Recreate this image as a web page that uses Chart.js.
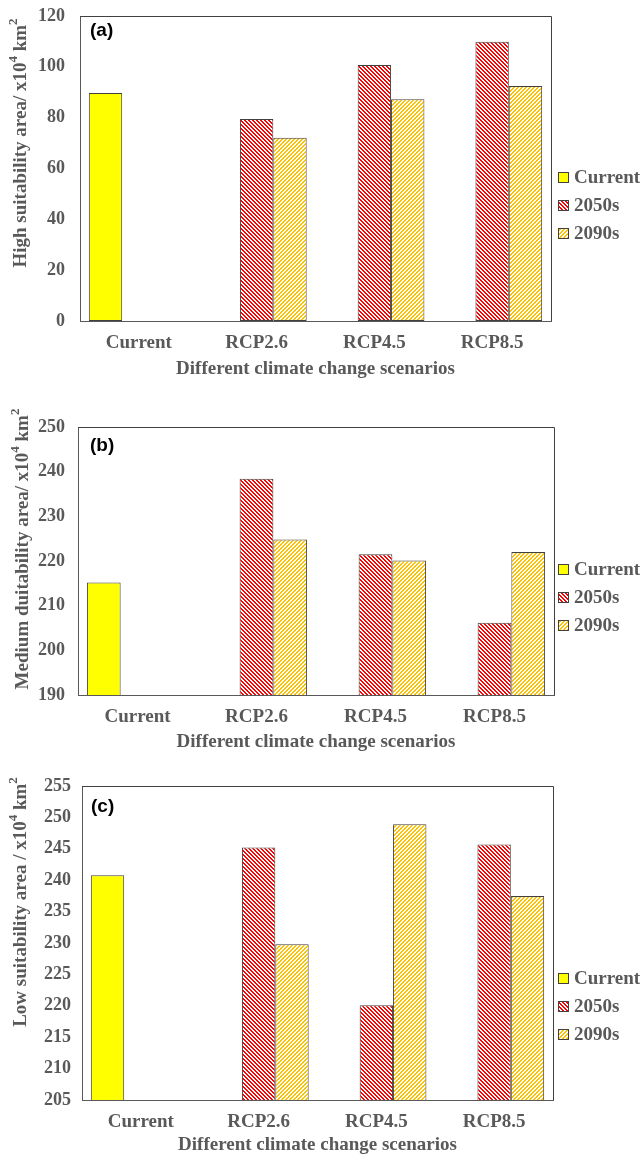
<!DOCTYPE html>
<html>
<head>
<meta charset="utf-8">
<script src="https://cdn.jsdelivr.net/npm/chart.js@4.4.1/dist/chart.umd.min.js"></script>
<style>
  body { margin: 0; background: #fff; overflow: hidden; }
  .panel { position: absolute; left: 0; }
</style>
</head>
<body>
<div class="panel" style="top:0px"><canvas id="chartA" width="644" height="380"></canvas></div>
<div class="panel" style="top:380px"><canvas id="chartB" width="644" height="380"></canvas></div>
<div class="panel" style="top:760px"><canvas id="chartC" width="644" height="396"></canvas></div>
<script>
const scenarios = ["Current", "RCP2.6", "RCP4.5", "RCP8.5"];
const seriesNames = ["Current", "2050s", "2090s"];

// (a) high suitability area
const highCurrent = [89.7, null, null, null];
const high2050s = [null, 79.5, 100.7, 109.9];
const high2090s = [null, 72.1, 87.2, 92.5];
const highTicks = [0, 120, 20];

// (b) medium suitability area
const medCurrent = [215.2, null, null, null];
const med2050s = [null, 238.4, 221.5, 206.2];
const med2090s = [null, 224.8, 220.1, 222.0];
const medTicks = [190, 250, 10];

// (c) low suitability area
const lowCurrent = [240.8, null, null, null];
const low2050s = [null, 245.2, 220.1, 245.7];
const low2090s = [null, 229.8, 248.9, 237.5];
const lowTicks = [205, 255, 5];

const xTitle = "Different climate change scenarios";
const grey = "#595959";
const serif = "'Liberation Serif', 'Times New Roman', serif";

function hatch(color, dir) {
    const c = document.createElement("canvas");
    c.width = 4; c.height = 4;
    const g = c.getContext("2d");
    g.fillStyle = "#fff";
    g.fillRect(0, 0, 4, 4);
    g.fillStyle = color;
    for (let y = 0; y < 4; y++) {
        for (let x = 0; x < 4; x++) {
            const k = dir > 0 ? (x + y) % 4 : (x - y + 4) % 4;
            if (k < 2) g.fillRect(x, y, 1, 1);
        }
    }
    return g.createPattern(c, "repeat");
}

// frame, panel label, y title with superscripts, legend
const extras = {
    id: "extras",
    afterDraw(chart) {
        const o = chart.options.plugins.extras;
        const ctx = chart.ctx;
        const a = chart.chartArea;
        ctx.save();
        ctx.strokeStyle = "#404040";
        ctx.lineWidth = 1;
        ctx.beginPath();
        ctx.moveTo(a.left, a.top + 0.5);
        ctx.lineTo(a.right + 0.5, a.top + 0.5);
        ctx.lineTo(a.right + 0.5, a.bottom);
        ctx.stroke();

        ctx.fillStyle = "#000";
        ctx.font = "bold 19px 'Liberation Sans', Arial, sans-serif";
        ctx.textBaseline = "middle";
        ctx.textAlign = "left";
        ctx.fillText(o.panel, o.panelX, o.panelY);

        // y axis title
        ctx.translate(o.titleX, o.titleY);
        ctx.rotate(-Math.PI / 2);
        ctx.fillStyle = grey;
        ctx.textBaseline = "middle";
        let total = 0;
        o.title.forEach(s => {
            ctx.font = s.sup ? "bold 13px " + serif : "bold 19px " + serif;
            total += ctx.measureText(s.t).width;
        });
        let x = -total / 2;
        o.title.forEach(s => {
            ctx.font = s.sup ? "bold 13px " + serif : "bold 19px " + serif;
            ctx.fillText(s.t, x, s.sup ? -7 : 0);
            x += ctx.measureText(s.t).width;
        });
        ctx.setTransform(1, 0, 0, 1, 0, 0);
        ctx.restore();

        // legend
        ctx.save();
        ctx.font = "bold 19px " + serif;
        ctx.textBaseline = "middle";
        chart.data.datasets.forEach((ds, i) => {
            const y = o.legendY + i * 28;
            ctx.fillStyle = ds.backgroundColor;
            ctx.fillRect(558, y - 5, 11, 11);
            ctx.strokeStyle = "#404040";
            ctx.lineWidth = 1;
            ctx.strokeRect(558.5, y - 4.5, 10, 10);
            ctx.fillStyle = grey;
            ctx.fillText(ds.label, 574, y + 1);
        });
        ctx.restore();
    }
};

function graficar(id, cur, s50, s90, ticks, cfg) {
    const h = document.getElementById(id).height;
    return new Chart(document.getElementById(id), {
        type: "bar",
        data: {
            labels: scenarios,
            datasets: [
                { label: seriesNames[0], data: cur, backgroundColor: "#FFFF00" },
                { label: seriesNames[1], data: s50, backgroundColor: hatch("#FF0000", -1) },
                { label: seriesNames[2], data: s90, backgroundColor: hatch("#FFC000", 1) }
            ]
        },
        options: {
            responsive: false,
            animation: false,
            layout: { padding: { top: cfg.top, right: 644 - cfg.right, left: 0, bottom: 0 } },
            datasets: {
                bar: {
                    categoryPercentage: 0.85,
                    barPercentage: 1,
                    borderColor: "#404040",
                    borderWidth: 1,
                    borderSkipped: false
                }
            },
            plugins: {
                legend: { display: false },
                tooltip: { enabled: false },
                extras: cfg.extras
            },
            scales: {
                x: {
                    grid: { display: false, drawTicks: false },
                    border: { color: grey },
                    ticks: { padding: 11, color: grey, maxRotation: 0, autoSkip: false, font: { family: serif, size: 19, weight: "bold" } },
                    title: { display: true, text: xTitle, color: grey, padding: { top: 0, bottom: cfg.xtPad }, font: { family: serif, size: 19, weight: "bold" } },
                    afterFit: function(s) {
                        s.height = h - cfg.bottom;
                        s.paddingLeft = 0; s.paddingRight = 0;
                    }
                },
                y: {
                    min: ticks[0],
                    max: ticks[1],
                    grid: { display: false, drawTicks: false },
                    border: { color: grey },
                    ticks: { stepSize: ticks[2], padding: cfg.tickPad, color: grey, font: { family: serif, size: 18, weight: "bold" } },
                    afterFit: function(s) {
                        s.width = cfg.left;
                        s.paddingTop = 0; s.paddingBottom = 0;
                    }
                }
            }
        },
        plugins: [extras]
    });
}

graficar("chartA", highCurrent, high2050s, high2090s, highTicks, {
    top: 16, bottom: 321, left: 80, right: 551, tickPad: 15, xtPad: 0,
    extras: {
        panel: "(a)", panelX: 90, panelY: 31, titleX: 21, titleY: 143, legendY: 177,
        title: [{ t: "High suitability area/ x10" }, { t: "4", sup: true }, { t: " km" }, { t: "2", sup: true }]
    }
});

graficar("chartB", medCurrent, med2050s, med2090s, medTicks, {
    top: 47, bottom: 315, left: 78, right: 554, tickPad: 13, xtPad: 7,
    extras: {
        panel: "(b)", panelX: 90, panelY: 66, titleX: 23, titleY: 169, legendY: 189,
        title: [{ t: "Medium duitability area/ x10" }, { t: "4", sup: true }, { t: " km" }, { t: "2", sup: true }]
    }
});

graficar("chartC", lowCurrent, low2050s, low2090s, lowTicks, {
    top: 26, bottom: 340, left: 82, right: 553, tickPad: 11, xtPad: 0,
    extras: {
        panel: "(c)", panelX: 91, panelY: 47, titleX: 21, titleY: 142, legendY: 218,
        title: [{ t: "Low suitability area / x10" }, { t: "4", sup: true }, { t: " km" }, { t: "2", sup: true }]
    }
});
</script>
</body>
</html>
